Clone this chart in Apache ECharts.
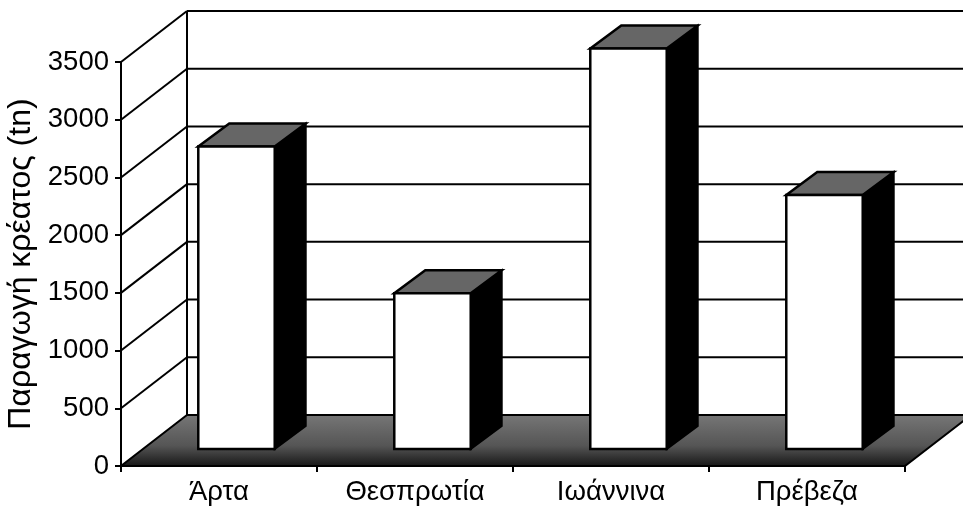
<!DOCTYPE html>
<html>
<head>
<meta charset="utf-8">
<script src="https://cdn.jsdelivr.net/npm/echarts@6/dist/echarts.min.js"></script>
<style>
  html, body { margin: 0; padding: 0; background: #fff; }
  #chart { width: 963px; height: 513px; }
</style>
</head>
<body>
<div id="chart"></div>
<script>
// --- data ---
const regions = ['Άρτα', 'Θεσπρωτία', 'Ιωάννινα', 'Πρέβεζα'];
const production = [2620, 1350, 3470, 2200];
const yTicks = [0, 500, 1000, 1500, 2000, 2500, 3000, 3500];
const yTitle = 'Παραγωγή κρέατος (tn)';

// --- 3D look (pixels) ---
const DEPTH = [66, -51];       // floor / side wall depth
const BAR_SHIFT = [17.5, -17]; // bar front face sits a bit behind the front edge
const BAR_DEPTH = [31, -23];
const BAR_WIDTH = 0.39;        // share of the category band
const FONT = '"Liberation Sans", Arial, sans-serif';

const chart = echarts.init(document.getElementById('chart'));

function renderFrame(params, api) {
    const band = api.size([1, 0])[0];
    const n = regions.length;
    const left = api.coord([0, 0])[0] - band / 2;
    const right = api.coord([n - 1, 0])[0] + band / 2;
    const y0 = api.coord([0, 0])[1];
    const yTop = api.coord([0, yTicks[yTicks.length - 1]])[1];
    const line = { stroke: '#000', lineWidth: 2 };
    const kids = [];

    // floor, speckled grey at the back, darker to the front
    kids.push({
        type: 'polygon',
        shape: { points: [[left, y0], [right, y0], [right + DEPTH[0], y0 + DEPTH[1]], [left + DEPTH[0], y0 + DEPTH[1]]] },
        style: {
            fill: new echarts.graphic.LinearGradient(0, 0, 0, 1, [
                { offset: 0, color: '#777' },
                { offset: 0.6, color: '#555' },
                { offset: 1, color: '#151515' }
            ]),
            stroke: '#000', lineWidth: 2
        }
    });
    kids.push({
        type: 'line',
        shape: { x1: left + DEPTH[0], y1: y0 + DEPTH[1], x2: left + DEPTH[0], y2: yTop + DEPTH[1] },
        style: line
    });
    yTicks.forEach(v => {
        if (v === 0) return;
        const y = api.coord([0, v])[1];
        kids.push({
            type: 'line',
            shape: { x1: left, y1: y, x2: left + DEPTH[0], y2: y + DEPTH[1] },
            style: line
        });
        kids.push({
            type: 'line',
            shape: { x1: left + DEPTH[0], y1: y + DEPTH[1], x2: right + DEPTH[0], y2: y + DEPTH[1] },
            style: line
        });
    });
    return { type: 'group', children: kids };
}

function renderBar(params, api) {
    const idx = api.value(0);
    const val = api.value(1);
    const band = api.size([1, 0])[0];
    const c = api.coord([idx, 0]);
    const t = api.coord([idx, val]);
    const w = band * BAR_WIDTH;
    const xl = c[0] - w / 2 + BAR_SHIFT[0];
    const xr = xl + w;
    const yb = c[1] + BAR_SHIFT[1];
    const yt = t[1] + BAR_SHIFT[1];
    const dx = BAR_DEPTH[0], dy = BAR_DEPTH[1];
    return {
        type: 'group',
        children: [
            {
                type: 'polygon',
                shape: { points: [[xr, yt], [xr + dx, yt + dy], [xr + dx, yb + dy], [xr, yb]] },
                style: { fill: '#000', stroke: '#000', lineWidth: 2 }
            },
            {
                type: 'polygon',
                shape: { points: [[xl, yt], [xr, yt], [xr + dx, yt + dy], [xl + dx, yt + dy]] },
                style: { fill: '#666', stroke: '#000', lineWidth: 2.5 }
            },
            {
                type: 'rect',
                shape: { x: xl, y: yt, width: w, height: yb - yt },
                style: { fill: '#fff', stroke: '#000', lineWidth: 2.5 }
            }
        ]
    };
}

const option = {
    animation: false,
    backgroundColor: '#fff',
    grid: { left: 121, right: 58, top: 62, bottom: 47, outerBoundsMode: 'none' },
    xAxis: {
        type: 'category',
        data: regions,
        boundaryGap: true,
        axisLine: { lineStyle: { color: '#000', width: 2 } },
        axisTick: { show: true, length: 6, lineStyle: { color: '#000', width: 2 } },
        axisLabel: { color: '#000', fontSize: 27.5, fontFamily: FONT, margin: 12 },
        splitLine: { show: false }
    },
    yAxis: {
        type: 'value',
        min: 0,
        max: 3500,
        interval: 500,
        name: yTitle,
        nameLocation: 'middle',
        nameGap: 72,
        nameTextStyle: { color: '#000', fontSize: 32, fontFamily: FONT },
        axisLine: { show: true, lineStyle: { color: '#000', width: 2 } },
        axisTick: { show: true, length: 6, lineStyle: { color: '#000', width: 2 } },
        axisLabel: { color: '#000', fontSize: 27.5, fontFamily: FONT, margin: 12, formatter: v => String(v) },
        splitLine: { show: false }
    },
    series: [
        {
            type: 'custom',
            z: 1,
            clip: false,
            silent: true,
            data: [[0, 0]],
            renderItem: renderFrame
        },
        {
            type: 'custom',
            z: 3,
            clip: false,
            data: production.map((v, i) => [i, v]),
            encode: { x: 0, y: 1 },
            renderItem: renderBar
        }
    ]
};

chart.setOption(option);
</script>
</body>
</html>
